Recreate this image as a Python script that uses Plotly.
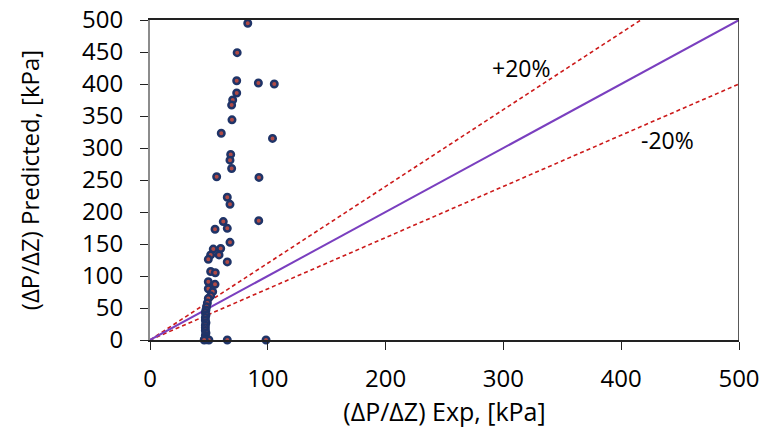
import plotly.graph_objects as go

# Experimental vs predicted pressure gradient [kPa]
exp_vals = [83, 74, 73.6, 92, 105.5, 73.6, 70.2, 69.3, 69.6, 60.5, 104, 68.5, 67.9, 69.3,
            56.6, 92.5, 65.6, 67.9, 62.2, 55.2, 65.6, 92.3, 67.9, 53.7, 60, 51.5, 58.6,
            49.5, 65.6, 51.5, 55.4, 49.5, 55.2, 49.5, 53.2, 51.5, 49.5, 48.7, 48,
            47.5, 47, 47.5, 47, 47, 47.5, 47, 47, 47, 47.5, 47, 47, 46.5, 48, 50, 46,
            65.6, 98.5]
pred_vals = [495, 449, 405, 401.5, 400, 386, 375, 367, 344, 323, 315, 290, 281, 268,
             255, 254, 223, 212, 185, 173, 174.5, 186.5, 152.6, 142, 143, 133, 133,
             126, 122, 107, 105, 91, 87, 80, 75.5, 69, 65, 58, 52,
             47, 43, 39, 35, 31, 27, 23, 19, 15, 11, 7, 4, 1.5, 0.5, 0, 0,
             0, 0]

line_x = [0, 500]
perfect_y = [0, 500]
plus20_x = [0, 500 / 1.2]
plus20_y = [0, 500]
minus20_x = [0, 500]
minus20_y = [0, 400]

x_ticks = [0, 100, 200, 300, 400, 500]
y_ticks = [0, 50, 100, 150, 200, 250, 300, 350, 400, 450, 500]

font_family = "Open Sans"

fig = go.Figure()
fig.add_trace(go.Scatter(x=plus20_x, y=plus20_y, mode="lines",
                         line=dict(color="#CC1A1A", width=1.6, dash="4px,3px"),
                         showlegend=False, hoverinfo="skip"))
fig.add_trace(go.Scatter(x=minus20_x, y=minus20_y, mode="lines",
                         line=dict(color="#CC1A1A", width=1.6, dash="4px,3px"),
                         showlegend=False, hoverinfo="skip"))
fig.add_trace(go.Scatter(x=line_x, y=perfect_y, mode="lines",
                         line=dict(color="#7A3FBF", width=2),
                         showlegend=False, hoverinfo="skip"))
fig.add_trace(go.Scatter(x=exp_vals, y=pred_vals, mode="markers",
                         marker=dict(size=6.5, color="#B04A45",
                                     line=dict(color="#1F3468", width=2.5)),
                         showlegend=False, cliponaxis=False))

fig.add_annotation(x=315, y=425, text="+20%", showarrow=False,
                   font=dict(family=font_family, size=23, color="black"))
fig.add_annotation(x=439, y=312, text="-20%", showarrow=False,
                   font=dict(family=font_family, size=23, color="black"))

fig.add_shape(type="line", xref="x", yref="paper", x0=500, x1=500, y0=0, y1=1,
              line=dict(color="#222222", width=1.5), layer="above")

fig.update_layout(
    width=763, height=434,
    margin=dict(l=150, r=24, t=20, b=94),
    plot_bgcolor="white", paper_bgcolor="white",
    font=dict(family=font_family, size=24, color="black"),
    xaxis=dict(range=[0, 500], tickvals=x_ticks, showgrid=False, zeroline=False,
               automargin=False,
               showline=True, linecolor="#222222", linewidth=1.5, mirror=True,
               ticks="outside", ticklen=8, tickcolor="#222222",
               ticklabelstandoff=8,
               title=dict(text="(ΔP/ΔZ) Exp, [kPa]", font=dict(size=25), standoff=10)),
    yaxis=dict(range=[0, 500], tickvals=y_ticks, showgrid=False, zeroline=False,
               automargin=False,
               showline=True, linecolor="#8C8C8C", linewidth=2,
               ticks="outside", ticklen=8, tickcolor="#222222",
               ticklabelstandoff=12,
               title=dict(text="(ΔP/ΔZ) Predicted, [kPa]", font=dict(size=24), standoff=36)),
)

fig.write_html("out.html")
